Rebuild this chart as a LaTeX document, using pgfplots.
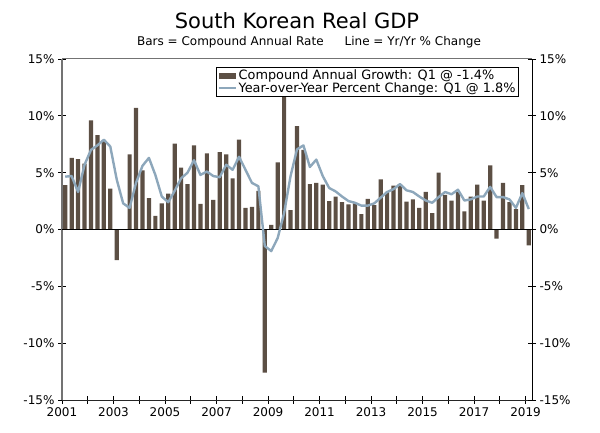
\documentclass[border=0pt]{standalone}
\usepackage{fontspec}
\setmainfont{DejaVu Sans}
\usepackage{pgfplots}
\usepackage{pgfplotstable}
\pgfplotsset{compat=1.18}
\definecolor{barcol}{RGB}{92,79,68}
\definecolor{linecol}{RGB}{141,167,187}
\definecolor{axgray}{RGB}{115,115,115}

\pgfplotstableread{
x bar yoy
2001.125 3.9 4.65
2001.375 6.3 4.7
2001.625 6.2 3.3
2001.875 5.8 5.7
2002.125 9.6 7.0
2002.375 8.3 7.4
2002.625 7.8 7.9
2002.875 3.6 7.3
2003.125 -2.7 4.4
2003.375 0.0 2.3
2003.625 6.6 1.9
2003.875 10.7 4.1
2004.125 5.2 5.6
2004.375 2.75 6.3
2004.625 1.2 4.8
2004.875 2.3 2.9
2005.125 3.15 2.4
2005.375 7.55 3.4
2005.625 5.45 4.5
2005.875 4.0 5.0
2006.125 7.4 6.1
2006.375 2.25 4.8
2006.625 6.7 5.1
2006.875 2.6 4.7
2007.125 6.8 4.6
2007.375 6.6 5.7
2007.625 4.5 5.25
2007.875 7.9 6.4
2008.125 1.9 5.25
2008.375 2.0 4.1
2008.625 3.4 3.8
2008.875 -12.6 -1.45
2009.125 0.4 -1.9
2009.375 5.9 -0.75
2009.625 13.0 1.45
2009.875 1.7 4.7
2010.125 9.1 7.05
2010.375 7.0 7.4
2010.625 4.0 5.5
2010.875 4.1 6.15
2011.125 3.95 4.7
2011.375 2.5 3.65
2011.625 2.9 3.35
2011.875 2.4 2.9
2012.125 2.2 2.5
2012.375 2.3 2.35
2012.625 1.35 2.1
2012.875 2.7 2.1
2013.125 2.15 2.3
2013.375 4.4 2.8
2013.625 3.3 3.3
2013.875 3.85 3.55
2014.125 4.0 4.0
2014.375 2.45 3.45
2014.625 2.65 3.3
2014.875 1.9 2.9
2015.125 3.3 2.55
2015.375 1.45 2.35
2015.625 5.0 2.85
2015.875 3.05 3.3
2016.125 2.55 3.1
2016.375 3.3 3.5
2016.625 1.6 2.55
2016.875 2.9 2.65
2017.125 3.95 2.9
2017.375 2.55 2.9
2017.625 5.65 3.75
2017.875 -0.8 2.85
2018.125 4.1 2.85
2018.375 2.4 2.65
2018.625 1.8 1.9
2018.875 3.9 3.2
2019.125 -1.4 1.8
}\gdpdata

\begin{document}
\begin{tikzpicture}
\pgfplotsset{
  common/.style={
    at={(0pt,0pt)}, anchor=south west,
    scale only axis, width=470pt, height=341pt,
    xmin=2001, xmax=2019.25, ymin=-15, ymax=15,
    ytick={-15,-10,-5,0,5,10,15},
    yticklabels={-15\%,-10\%,-5\%,0\%,5\%,10\%,15\%},
    tick align=center, major tick length=8pt,
    ticklabel style={font=\fontsize{12}{14}\selectfont},
  }
}
\begin{axis}[common,
  axis x line*=bottom, axis y line*=left,
  x axis line style={black!85, line width=0.9pt, -},
  y axis line style={axgray, line width=1.3pt, -},
  xtick={2001,2002,2003,2004,2005,2006,2007,2008,2009,2010,2011,2012,2013,2014,2015,2016,2017,2018,2019},
  xticklabels={2001,,2003,,2005,,2007,,2009,,2011,,2013,,2015,,2017,,2019},
  x tick style={black, line width=0.7pt},
  y tick style={black, line width=0.7pt},
  legend style={at={(rel axis cs:0.972,0.977)}, anchor=north east,
    draw=black, fill=white, line width=0.6pt, inner sep=1pt, row sep=-3pt,
    font=\fontsize{12.85}{14}\selectfont, cells={anchor=west},
    legend cell align=left},
]
\draw[axgray, line width=1pt] (rel axis cs:0,1) -- (rel axis cs:1,1);
\addplot[ybar, bar width=4.2pt, bar shift=0pt, fill=barcol, draw=none,
  legend image code/.code={\fill[barcol] (0pt,-3pt) rectangle (17pt,3pt);}]
  table[x=x, y=bar] {\gdpdata};
\addlegendentry{Compound Annual Growth: Q1 @ -1.4\%}
\draw[black, line width=0.7pt] (axis cs:2001,0) -- (axis cs:2019.25,0);
\addplot[linecol, line width=2.4pt, no marks, line join=round,
  legend image code/.code={\draw[linecol, line width=2pt] (0pt,0pt) -- (17pt,0pt);}]
  table[x=x, y=yoy] {\gdpdata};
\addlegendentry{Year-over-Year Percent Change: Q1 @ 1.8\%}
\end{axis}
\begin{axis}[common,
  axis y line*=right, axis x line=none,
  y axis line style={black, line width=0.9pt, -},
  y tick style={black, line width=0.7pt},
]
\end{axis}
\node[font=\fontsize{21}{25}\selectfont, anchor=center] at (235pt,379pt) {South Korean Real GDP};
\node[font=\fontsize{12}{14}\selectfont, anchor=center] at (247pt,358pt) {Bars = Compound Annual Rate\hspace{21pt}Line = Yr/Yr \% Change};
\pgfresetboundingbox
\path (-62pt,-33pt) rectangle (538pt,400pt);
\end{tikzpicture}
\end{document}
